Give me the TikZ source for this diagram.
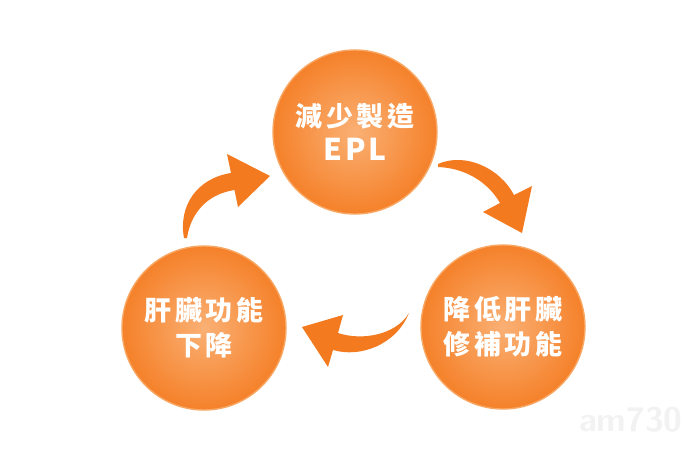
\documentclass[tikz,border=0pt]{standalone}
\usepackage{fontspec}
\newfontfamily\cjk{Noto Sans CJK TC Black}[LetterSpace=14]
\newfontfamily\cjklat{Noto Sans CJK TC Black}[LetterSpace=10]
\usetikzlibrary{shadings}
\definecolor{arroworange}{HTML}{F47A1F}
\definecolor{ballin}{HTML}{FAB074}
\definecolor{ballout}{HTML}{F5812A}
\definecolor{ballrim}{HTML}{F8A865}
\tikzset{
  ball/.style={circle, minimum size=164pt, inner sep=0pt, draw=ballrim, line width=1.4pt,
    inner color=ballin, outer color=ballout, text=white, align=center,
    font=\cjk\fontsize{27pt}{35pt}\selectfont},
  cyclearrow/.style={fill=arroworange, draw=none}
}
\begin{document}
\begin{tikzpicture}[x=1pt,y=-1pt]
\useasboundingbox (0,0) rectangle (700,457);
\fill[white] (0,0) rectangle (700,457);

\node[ball] (top) at (355,132) {減少製造\\[-1pt]{\cjklat\fontsize{30pt}{35pt}\selectfont EPL}};
\node[ball] (right) at (503,327) {降低肝臟\\修補功能};
\node[ball] (left) at (204,328) {肝臟功能\\下降};

% arrow from left circle to top circle
\fill[cyclearrow] (184,238) .. controls (178,205) and (198,178) .. (231,173)
  -- (227,154) -- (270,176) -- (238,207) -- (234.5,190)
  .. controls (208,194) and (191,212) .. (187,238) -- cycle;
% arrow from top circle to right circle
\fill[cyclearrow] (438,164) .. controls (465,152) and (500,168) .. (514,195)
  -- (532,186) -- (522,233) -- (483,212) -- (500,203)
  .. controls (488,182) and (465,168) .. (438,167) -- cycle;
% arrow from right circle to left circle
\fill[cyclearrow] (409,313) .. controls (396,345) and (360,358) .. (333,350)
  -- (328,367) -- (302,327) -- (343,315) -- (338,333)
  .. controls (362,341) and (396,335) .. (409,313) -- cycle;

\node[text=black!5, font=\sffamily\bfseries\fontsize{34pt}{34pt}\selectfont, anchor=east] (logo) at (686,420) {am730};
\end{tikzpicture}
\end{document}
